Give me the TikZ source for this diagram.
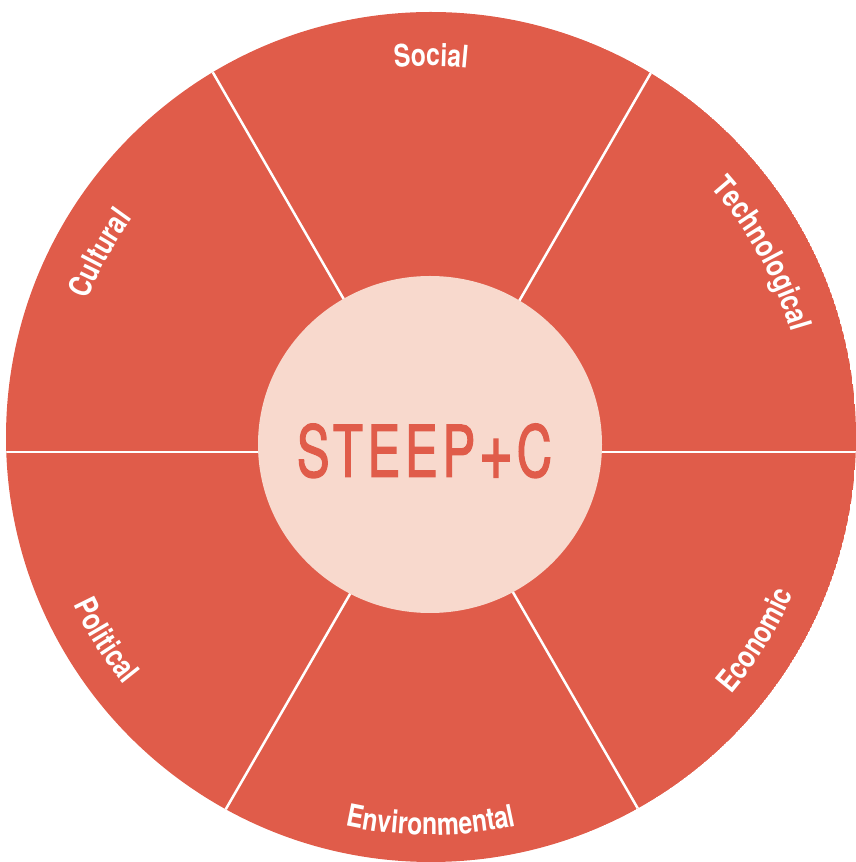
\documentclass[tikz,border=0pt]{standalone}
\usepackage{graphicx}
\usepackage{fontspec}
\newfontfamily\lblfont[FakeStretch=0.8]{TeX Gyre Heros}
\newfontfamily\ctrfont[FakeStretch=0.8,LetterSpace=8,FakeBold=2]{TeX Gyre Heros}
\usetikzlibrary{decorations.text}
\definecolor{steepred}{HTML}{E05C4A}
\definecolor{steeppeach}{HTML}{F8D9CD}
\newcommand\lblfmt{\lblfont\bfseries\fontsize{31}{31}\selectfont\color{white}}
\tikzset{
  divider/.style={draw=white, line width=2.5pt},
  lbl/.style={decorate, decoration={text along path, text align=center, text={|\lblfmt|#1}}},
}
\begin{document}
\begin{tikzpicture}[x=1pt,y=1pt]
\useasboundingbox (0,0) rectangle (856,862);
\coordinate (O) at (431,425);
\coordinate (D) at (432,410);
\begin{scope}
  \clip (O) circle[radius=425pt];
  \fill[steepred] (O) circle[radius=425pt];
  \foreach \a in {0,60,120,180,240,300}
    \draw[divider] (D) -- ++(\a:520pt);
\end{scope}
\fill[steeppeach] (430,417.5) ellipse[x radius=172pt, y radius=168.5pt];
\node[anchor=base, inner sep=0pt, text=steepred] (title) at (424.5,385.3)
  {\resizebox{255pt}{53pt}{\ctrfont STEEP\hspace{0.06em}\raisebox{-0.04em}{\scalebox{1.2}{+}}\hspace{0.06em}C}};
% top labels (clockwise, tops outward)
\path[lbl=Social] (O) ++(125:371pt) arc[start angle=125, end angle=55, radius=371pt];
\path[lbl=Technological] (O) ++(64:375pt) arc[start angle=64, end angle=-6, radius=375pt];
\path[lbl=Cultural] (O) ++(186:370pt) arc[start angle=186, end angle=116, radius=370pt];
% bottom labels (counter-clockwise, tops inward)
\path[lbl=Environmental] (O) ++(-125:398pt) arc[start angle=-125, end angle=-55, radius=398pt];
\path[lbl=Economic] (O) ++(-67:395pt) arc[start angle=-67, end angle=3, radius=395pt];
\path[lbl=Political] (O) ++(-183:395pt) arc[start angle=-183, end angle=-113, radius=395pt];
\end{tikzpicture}
\end{document}
